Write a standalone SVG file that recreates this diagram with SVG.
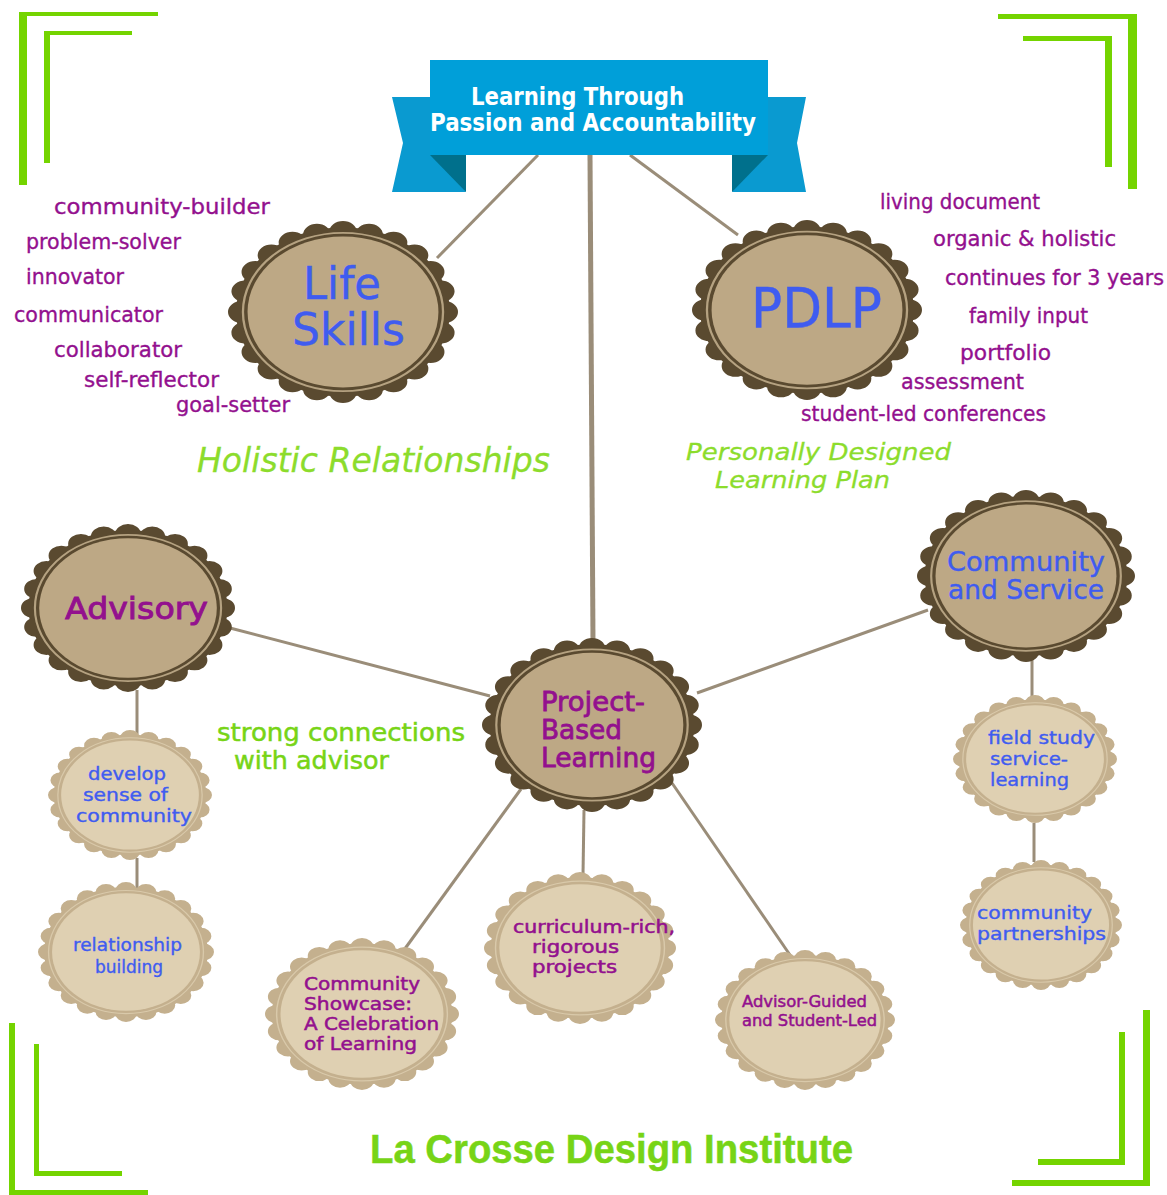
<svg xmlns="http://www.w3.org/2000/svg" width="1167" height="1195" viewBox="0 0 1167 1195">
<style>
text{font-family:"DejaVu Sans","Liberation Sans",sans-serif;}
.pur{fill:#93108e;stroke:#93108e;stroke-width:.5;}
.blu{fill:#3f5cf0;stroke:#3f5cf0;stroke-width:.4;}
.wht{fill:#fff;font-weight:bold;font-size:24px;}
.grn{fill:#8cdc2c;font-style:italic;stroke:#8cdc2c;stroke-width:.3;}
.grs{fill:#77d416;stroke:#77d416;stroke-width:.5;}
.li{font-size:21px;fill:#93108e;stroke:#93108e;stroke-width:.35;}
.conn{stroke:#9a8d79;fill:none;stroke-width:3;}
.frame{fill:#74d400;}
</style>
<defs>
<g id="bd">
<circle r="93" fill="#5a4a30"/>
<circle r="88" fill="none" stroke="#5a4a30" stroke-width="24" stroke-linecap="round" pathLength="24" stroke-dasharray="0 1"/>
<circle r="87" fill="none" stroke="#b5a281" stroke-width="2"/>
<circle r="83" fill="#bda885"/>
</g>
<g id="bl">
<circle r="93" fill="#c4b08e"/>
<circle r="88" fill="none" stroke="#c4b08e" stroke-width="24" stroke-linecap="round" pathLength="24" stroke-dasharray="0 1"/>
<circle r="88" fill="none" stroke="#d9c9aa" stroke-width="1.5"/>
<circle r="84" fill="#dfd0b2"/>
</g>
</defs>

<g id="frames">
<path class="frame" d="M19 12H158V16H27V185H19Z"/>
<path class="frame" d="M44 31H132V35H50V163H44Z"/>
<path class="frame" d="M998 14H1137V189H1128V19H998Z"/>
<path class="frame" d="M1023 36H1112V167H1105V41H1023Z"/>
<path class="frame" d="M9 1023H15V1190H148V1195H9Z"/>
<path class="frame" d="M34 1044H39V1171H122V1176H34Z"/>
<path class="frame" d="M1143 1010H1150V1186H1012V1180H1143Z"/>
<path class="frame" d="M1119 1032H1125V1165H1038V1159H1119Z"/>
</g>

<g id="connectors">
<path class="conn" d="M437 258L538 155"/>
<path class="conn" d="M630 155L738 235"/>
<path class="conn" style="stroke-width:5" d="M590 155L593 642"/>
<path class="conn" d="M230 628L490 696"/>
<path class="conn" d="M697 693L928 610"/>
<path class="conn" d="M521 789L404 950"/>
<path class="conn" d="M584 810L583 875"/>
<path class="conn" d="M672 783L790 955"/>
<path class="conn" d="M137 690V734"/>
<path class="conn" d="M137 858V888"/>
<path class="conn" d="M1032 660V697"/>
<path class="conn" d="M1034 823V862"/>
</g>

<g id="banner">
<path fill="#0a9ad0" d="M392 97H440V155L466 192H392L403 143Z"/>
<path fill="#0a9ad0" d="M806 97H758V155L732 192H806L797 143Z"/>
<path fill="#00708c" d="M430 155H466V192Z"/>
<path fill="#00708c" d="M768 155H732V192Z"/>
<rect x="430" y="60" width="338" height="95" fill="#009fd9"/>
<text class="wht" x="471" y="105" textLength="213" lengthAdjust="spacingAndGlyphs">Learning Through</text>
<text class="wht" x="430" y="131" textLength="326" lengthAdjust="spacingAndGlyphs">Passion and Accountability</text>
</g>

<g id="life-skills">
<use href="#bd" transform="translate(343 312) scale(1.15 .91)"/>
<text class="blu" font-size="44" x="303" y="299" textLength="78" lengthAdjust="spacingAndGlyphs">Life</text>
<text class="blu" font-size="44" x="292" y="345" textLength="113" lengthAdjust="spacingAndGlyphs">Skills</text>
</g>
<g id="pdlp">
<use href="#bd" transform="translate(807 310) scale(1.15 .90)"/>
<text class="blu" font-size="55" x="751" y="327" textLength="131" lengthAdjust="spacingAndGlyphs">PDLP</text>
</g>
<g id="advisory">
<use href="#bd" transform="translate(128 608) scale(1.07 .84)"/>
<text class="pur" font-size="30" style="stroke-width:.9" x="65" y="619" textLength="143" lengthAdjust="spacingAndGlyphs">Advisory</text>
</g>
<g id="community-service">
<use href="#bd" transform="translate(1026 576) scale(1.09 .86)"/>
<text class="blu" font-size="27" x="947" y="571" textLength="158" lengthAdjust="spacingAndGlyphs">Community</text>
<text class="blu" font-size="27" x="948" y="599" textLength="156" lengthAdjust="spacingAndGlyphs">and Service</text>
</g>
<g id="project-based-learning">
<use href="#bd" transform="translate(592 725) scale(1.10 .87)"/>
<text class="pur" font-size="27" style="stroke-width:.8" x="541" y="711" textLength="104" lengthAdjust="spacingAndGlyphs">Project-</text>
<text class="pur" font-size="27" style="stroke-width:.8" x="541" y="739" textLength="81" lengthAdjust="spacingAndGlyphs">Based</text>
<text class="pur" font-size="27" style="stroke-width:.8" x="541" y="767" textLength="115" lengthAdjust="spacingAndGlyphs">Learning</text>
</g>
<g id="develop-community">
<use href="#bl" transform="translate(130 795) scale(.82 .65)"/>
<text class="blu" font-size="18" x="88" y="780" textLength="78" lengthAdjust="spacingAndGlyphs">develop</text>
<text class="blu" font-size="18" x="83" y="801" textLength="85" lengthAdjust="spacingAndGlyphs">sense of</text>
<text class="blu" font-size="18" x="76" y="822" textLength="116" lengthAdjust="spacingAndGlyphs">community</text>
</g>
<g id="relationship-building">
<use href="#bl" transform="translate(126 952) scale(.88 .70)"/>
<text class="blu" font-size="18.5" x="73" y="951" textLength="109" lengthAdjust="spacingAndGlyphs">relationship</text>
<text class="blu" font-size="18.5" x="95" y="973" textLength="68" lengthAdjust="spacingAndGlyphs">building</text>
</g>
<g id="community-showcase">
<use href="#bl" transform="translate(362 1014) scale(.97 .76)"/>
<text class="pur" font-size="17" x="304" y="990" textLength="116" lengthAdjust="spacingAndGlyphs">Community</text>
<text class="pur" font-size="17" x="304" y="1010" textLength="108" lengthAdjust="spacingAndGlyphs">Showcase:</text>
<text class="pur" font-size="17" x="304" y="1030" textLength="135" lengthAdjust="spacingAndGlyphs">A Celebration</text>
<text class="pur" font-size="17" x="304" y="1050" textLength="113" lengthAdjust="spacingAndGlyphs">of Learning</text>
</g>
<g id="curriculum-rich">
<use href="#bl" transform="translate(580 948) scale(.96 .76)"/>
<text class="pur" font-size="17" x="513" y="933" textLength="162" lengthAdjust="spacingAndGlyphs">curriculum-rich,</text>
<text class="pur" font-size="17" x="532" y="953" textLength="87" lengthAdjust="spacingAndGlyphs">rigorous</text>
<text class="pur" font-size="17" x="532" y="973" textLength="85" lengthAdjust="spacingAndGlyphs">projects</text>
</g>
<g id="advisor-guided">
<use href="#bl" transform="translate(805 1020) scale(.90 .70)"/>
<text class="pur" font-size="16" x="742" y="1007" textLength="125" lengthAdjust="spacingAndGlyphs">Advisor-Guided</text>
<text class="pur" font-size="16" x="742" y="1026" textLength="135" lengthAdjust="spacingAndGlyphs">and Student-Led</text>
</g>
<g id="field-study">
<use href="#bl" transform="translate(1035 759) scale(.82 .64)"/>
<text class="blu" font-size="18" x="988" y="744" textLength="107" lengthAdjust="spacingAndGlyphs">field study</text>
<text class="blu" font-size="18" x="990" y="765" textLength="78" lengthAdjust="spacingAndGlyphs">service-</text>
<text class="blu" font-size="18" x="990" y="786" textLength="79" lengthAdjust="spacingAndGlyphs">learning</text>
</g>
<g id="community-partnerships">
<use href="#bl" transform="translate(1041 925) scale(.81 .65)"/>
<text class="blu" font-size="18" x="977" y="919" textLength="115" lengthAdjust="spacingAndGlyphs">community</text>
<text class="blu" font-size="18" x="977" y="940" textLength="129" lengthAdjust="spacingAndGlyphs">partnerships</text>
</g>

<g id="life-skills-list">
<text class="li" x="54" y="214" textLength="216" lengthAdjust="spacingAndGlyphs">community-builder</text>
<text class="li" x="26" y="249" textLength="155" lengthAdjust="spacingAndGlyphs">problem-solver</text>
<text class="li" x="26" y="284" textLength="98" lengthAdjust="spacingAndGlyphs">innovator</text>
<text class="li" x="14" y="322" textLength="149" lengthAdjust="spacingAndGlyphs">communicator</text>
<text class="li" x="54" y="357" textLength="128" lengthAdjust="spacingAndGlyphs">collaborator</text>
<text class="li" x="84" y="387" textLength="135" lengthAdjust="spacingAndGlyphs">self-reflector</text>
<text class="li" x="176" y="412" textLength="114" lengthAdjust="spacingAndGlyphs">goal-setter</text>
</g>
<g id="pdlp-list">
<text class="li" x="880" y="209" textLength="160" lengthAdjust="spacingAndGlyphs">living document</text>
<text class="li" x="933" y="246" textLength="183" lengthAdjust="spacingAndGlyphs">organic &amp; holistic</text>
<text class="li" x="945" y="285" textLength="219" lengthAdjust="spacingAndGlyphs">continues for 3 years</text>
<text class="li" x="969" y="323" textLength="119" lengthAdjust="spacingAndGlyphs">family input</text>
<text class="li" x="960" y="360" textLength="91" lengthAdjust="spacingAndGlyphs">portfolio</text>
<text class="li" x="901" y="389" textLength="123" lengthAdjust="spacingAndGlyphs">assessment</text>
<text class="li" x="801" y="421" textLength="245" lengthAdjust="spacingAndGlyphs">student-led conferences</text>
</g>

<g id="captions">
<text class="grn" font-size="34" x="197" y="472" textLength="353" lengthAdjust="spacingAndGlyphs">Holistic Relationships</text>
<text class="grn" font-size="23" x="686" y="460" textLength="265" lengthAdjust="spacingAndGlyphs">Personally Designed</text>
<text class="grn" font-size="23" x="715" y="488" textLength="175" lengthAdjust="spacingAndGlyphs">Learning Plan</text>
<text class="grs" font-size="24" x="217" y="741" textLength="248" lengthAdjust="spacingAndGlyphs">strong connections</text>
<text class="grs" font-size="24" x="234" y="769" textLength="155" lengthAdjust="spacingAndGlyphs">with advisor</text>
<text class="grs" font-size="40" font-weight="bold" style="font-family:'Liberation Sans',sans-serif" x="370" y="1163" textLength="483" lengthAdjust="spacingAndGlyphs">La Crosse Design Institute</text>
</g>
</svg>
